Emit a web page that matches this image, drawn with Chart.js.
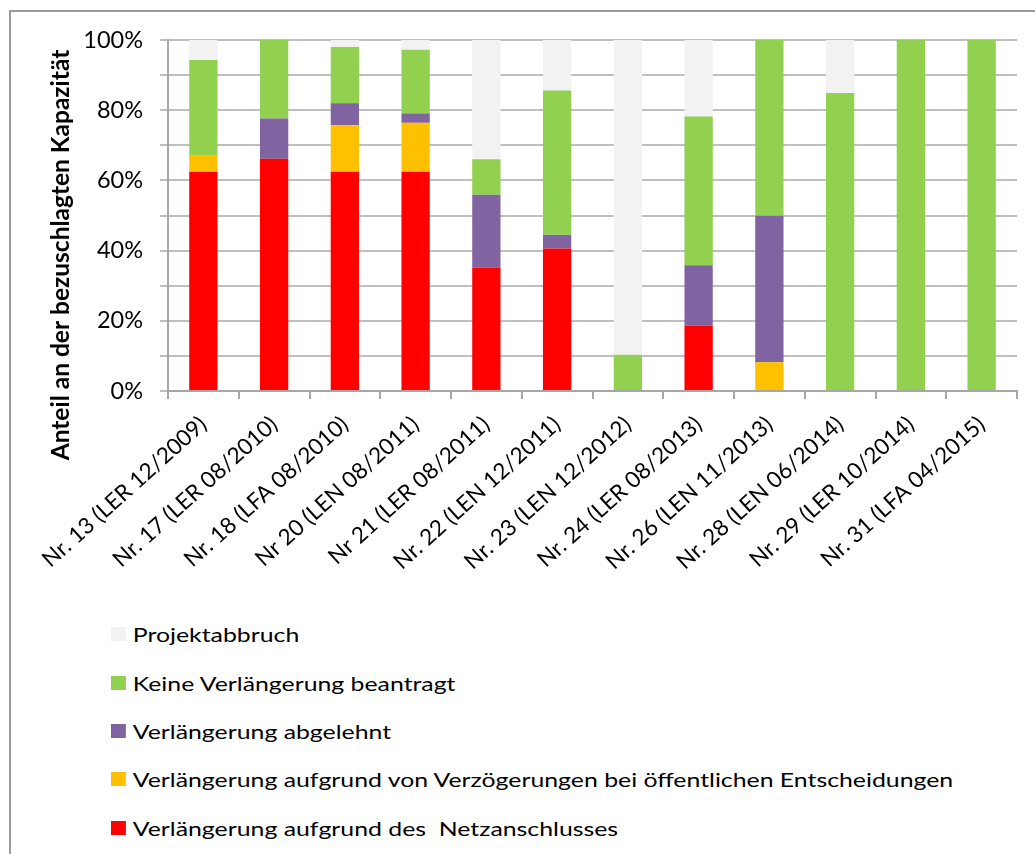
<!DOCTYPE html>
<html>
<head>
<meta charset="utf-8">
<script src="https://cdn.jsdelivr.net/npm/chart.js@4.4.1/dist/chart.umd.min.js"></script>
<style>
  body { margin: 0; background: #fff; width: 1035px; height: 854px; overflow: hidden; position: relative; font-family: Lato, sans-serif; }
  #frame { position: absolute; left: 9px; top: 10px; width: 1100px; height: 900px; border: 2px solid #9a9a9a; box-sizing: border-box; }
  #wrap { position: absolute; left: 0; top: 0; width: 1035px; height: 600px; }
  #legend { position: absolute; left: 111px; top: 610px; transform: scaleX(1.241); transform-origin: 0 0; }
  .item { height: 48.4px; display: flex; align-items: center; font-size: 20px; color: #000; white-space: pre; }
  .box { width: 12px; height: 14px; margin-right: 5.5px; flex: none; }
</style>
</head>
<body>
<div id="frame"></div>
<div id="wrap"><canvas id="chart"></canvas></div>
<div id="legend"></div>
<script>
// Kategorien (Ausschreibungsrunden)
const kategorien = [
  'Nr. 13 (LER 12/2009)', 'Nr. 17 (LER 08/2010)', 'Nr. 18 (LFA 08/2010)', 'Nr 20 (LEN 08/2011)',
  'Nr 21 (LER 08/2011)', 'Nr. 22 (LEN 12/2011)', 'Nr. 23 (LEN 12/2012)', 'Nr. 24 (LER 08/2013)',
  'Nr. 26 (LEN 11/2013)', 'Nr. 28 (LEN 06/2014)', 'Nr. 29 (LER 10/2014)', 'Nr. 31 (LFA 04/2015)'
];

// Anteile in % (von unten nach oben gestapelt)
const netzanschluss = [62.5, 66.2, 62.5, 62.5, 35.2, 40.6, 0, 18.6, 0, 0, 0, 0];
const verzoegerung  = [4.5, 0, 13.2, 13.9, 0, 0, 0, 0, 8.2, 0, 0, 0];
const abgelehnt     = [0, 11.4, 6.3, 2.7, 20.7, 3.9, 0, 17.2, 41.7, 0, 0, 0];
const keine         = [27.3, 22.4, 16.0, 18.1, 10.1, 41.1, 10.3, 42.4, 50.1, 84.9, 100, 100];
const abbruch       = [5.7, 0, 2.0, 2.8, 34.0, 14.4, 89.7, 21.8, 0, 15.1, 0, 0];

const yTicks = [0, 20, 40, 60, 80, 100];
const yTitel = 'Anteil an der bezuschlagten Kapazität';

const serien = [
  { label: 'Verlängerung aufgrund des  Netzanschlusses', data: netzanschluss, color: '#FF0000' },
  { label: 'Verlängerung aufgrund von Verzögerungen bei öffentlichen Entscheidungen', data: verzoegerung, color: '#FFC000' },
  { label: 'Verlängerung abgelehnt', data: abgelehnt, color: '#8064A2' },
  { label: 'Keine Verlängerung beantragt', data: keine, color: '#92D050' },
  { label: 'Projektabbruch', data: abbruch, color: '#F2F2F2' }
];

// Achsentitel etwas tiefer als die Mitte, wie im Original
const yTitelPlugin = {
  id: 'yTitel',
  afterDraw(chart) {
    const ctx = chart.ctx;
    ctx.save();
    ctx.translate(61, 255);
    ctx.rotate(-Math.PI / 2);
    ctx.font = 'bold 24.5px Lato';
    ctx.fillStyle = '#000';
    ctx.textAlign = 'center';
    ctx.textBaseline = 'middle';
    ctx.fillText(yTitel, 0, 0);
    ctx.restore();
  }
};

new Chart(document.getElementById('chart'), {
  type: 'bar',
  data: {
    labels: kategorien,
    datasets: serien.map(s => ({
      label: s.label,
      data: s.data,
      backgroundColor: s.color,
      borderWidth: 0,
      categoryPercentage: 1,
      barPercentage: 0.4
    }))
  },
  options: {
    responsive: true,
    maintainAspectRatio: false,
    animation: false,
    layout: { padding: { top: 40, right: 18, left: 0, bottom: 0 } },
    plugins: { legend: { display: false }, tooltip: { enabled: false } },
    scales: {
      x: {
        stacked: true,
        afterFit: s => { s.height = 209; },
        grid: { drawOnChartArea: false, drawTicks: true, tickLength: 8, color: '#A6A6A6', lineWidth: 2 },
        border: { color: '#A6A6A6', width: 2 },
        ticks: {
          autoSkip: false, maxRotation: 42, minRotation: 42, padding: 12,
          color: '#000', font: { family: 'Lato', size: 22.5 }
        }
      },
      y: {
        stacked: true,
        min: 0, max: 100,
        afterFit: s => { s.width = 168; },
        grid: { color: '#BFBFBF', lineWidth: 2, tickLength: 8 },
        border: { color: '#A6A6A6', width: 2 },
        ticks: {
          stepSize: 10, padding: 17, color: '#000', font: { family: 'Lato', size: 23.5 },
          callback: v => yTicks.includes(v) ? v + '%' : ''
        }
      }
    }
  },
  plugins: [yTitelPlugin]
});

// Legende: oberste Serie zuerst
const legende = document.getElementById('legend');
serien.slice().reverse().forEach(s => {
  const row = document.createElement('div');
  row.className = 'item';
  row.innerHTML = '<span class="box" style="background:' + s.color + '"></span>';
  row.appendChild(document.createTextNode(s.label));
  legende.appendChild(row);
});
</script>
</body>
</html>
